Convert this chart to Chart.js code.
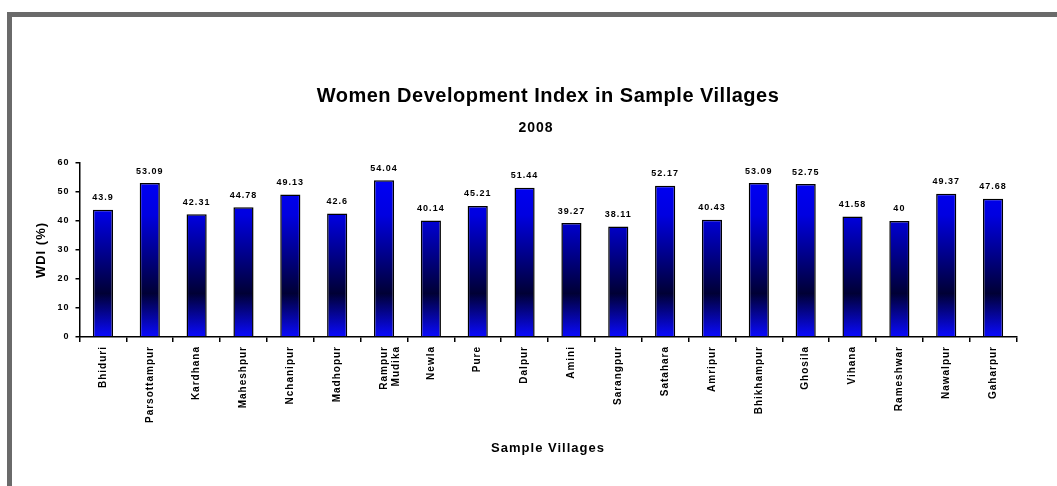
<!DOCTYPE html>
<html><head><meta charset="utf-8">
<script src="https://cdn.jsdelivr.net/npm/chart.js@4.4.1/dist/chart.umd.min.js"></script>
<style>
html,body{margin:0;padding:0;background:#fff;overflow:hidden;width:1057px;height:486px}
#frame{position:absolute;left:7px;top:12px;width:1100px;height:520px;border-top:5px solid #6a6a6a;border-left:5px solid #6a6a6a;box-sizing:border-box}
#wrap{position:absolute;left:0;top:0;width:1057px;height:486px}
</style></head>
<body>
<div id="frame"></div>
<div id="wrap"><canvas id="c" width="1057" height="486"></canvas></div>
<script>
const villages = ["Bhiduri","Parsottampur","Kardhana","Maheshpur","Nchanipur","Madhopur",["Rampur","Mudika"],"Newla","Pure","Dalpur","Amini","Sarangpur","Satahara","Amripur","Bhikhampur","Ghosila","Vihana","Rameshwar","Nawalpur","Gaharpur"];
const wdi = [43.9,53.09,42.31,44.78,49.13,42.6,54.04,40.14,45.21,51.44,39.27,38.11,52.17,40.43,53.09,52.75,41.58,40,49.37,47.68];
const yTicks = [0,10,20,30,40,50,60];
const titleText = "Women Development Index in Sample Villages";
const subtitleText = "2008";
const xTitle = "Sample Villages";
const yTitle = "WDI (%)";

const FONT = '"Liberation Sans", Arial, sans-serif';

const spacing = {
  id: 'spacing',
  beforeInit(chart){ chart.ctx.letterSpacing = '1px'; },
  beforeDraw(chart){ chart.ctx.letterSpacing = '1px'; }
};

const titles = {
  id: 'titles',
  afterDraw(chart){
    const ctx = chart.ctx;
    const cx = (chart.chartArea.left + chart.chartArea.right) / 2;
    ctx.save();
    ctx.fillStyle = '#000';
    ctx.textAlign = 'center';
    ctx.textBaseline = 'middle';
    ctx.letterSpacing = '0.5px';
    ctx.font = 'bold 20px ' + FONT;
    ctx.fillText(titleText, cx, 96);
    ctx.letterSpacing = '1px';
    ctx.font = 'bold 14px ' + FONT;
    ctx.fillText(subtitleText, cx - 12, 128.5);
    ctx.restore();
  }
};

const dataLabels = {
  id: 'dataLabels',
  afterDatasetsDraw(chart){
    const ctx = chart.ctx;
    const meta = chart.getDatasetMeta(0);
    ctx.save();
    ctx.font = 'bold 9px ' + FONT;
    ctx.letterSpacing = '1px';
    ctx.fillStyle = '#000';
    ctx.textAlign = 'center';
    ctx.textBaseline = 'middle';
    meta.data.forEach((bar, i) => {
      ctx.fillText(String(wdi[i]), bar.x, bar.y - 12);
    });
    ctx.restore();
  }
};

new Chart(document.getElementById('c'), {
  type: 'bar',
  data: {
    labels: villages,
    datasets: [{
      data: wdi,
      backgroundColor: (c) => {
        const area = c.chart.chartArea;
        if (!area) return '#0000ff';
        const g = c.chart.ctx.createLinearGradient(0, area.top, 0, area.bottom);
        g.addColorStop(0, '#0000ff');
        g.addColorStop(0.3, '#0000e0');
        g.addColorStop(0.75, '#000035');
        g.addColorStop(1, '#0a0aff');
        return g;
      },
      borderColor: '#000',
      borderWidth: 1.5,
      barPercentage: 0.43,
      categoryPercentage: 1
    }]
  },
  options: {
    responsive: false,
    animation: false,
    layout: { padding: { left: 0, right: 40.5, top: 163, bottom: 22 } },
    plugins: {
      legend: { display: false },
      tooltip: { enabled: false },
      title: { display: false },
      subtitle: { display: false }
    },
    scales: {
      x: {
        afterFit(s){ s.height = 127; },
        grid: { display: true, drawOnChartArea: false, offset: true, color: '#000', lineWidth: 1.5, tickLength: 5, tickColor: '#000' },
        border: { display: true, color: '#000', width: 1.5 },
        ticks: {
          color: '#000', maxRotation: 90, minRotation: 90, autoSkip: false, padding: 4,
          font: { family: FONT, size: 10, weight: 'bold' }
        },
        title: {
          display: true, text: xTitle, color: '#000',
          font: { family: FONT, size: 13, weight: 'bold', lineHeight: 1.2 },
          padding: { top: 4, bottom: 8 }
        }
      },
      y: {
        min: 0, max: 60,
        afterFit(s){ s.width = 79.5; },
        afterBuildTicks(s){ s.ticks = yTicks.map(v => ({ value: v })); },
        grid: { display: true, drawOnChartArea: false, color: '#000', lineWidth: 1.5, tickLength: 4, tickColor: '#000' },
        border: { display: true, color: '#000', width: 1.5 },
        ticks: { color: '#000', padding: 6, font: { family: FONT, size: 9, weight: 'bold' } },
        title: {
          display: true, text: yTitle, color: '#000',
          font: { family: FONT, size: 13, weight: 'bold', lineHeight: 1.2 },
          padding: { top: 34, bottom: 0 }
        }
      }
    }
  },
  plugins: [spacing, dataLabels, titles]
});
</script>
</body></html>
